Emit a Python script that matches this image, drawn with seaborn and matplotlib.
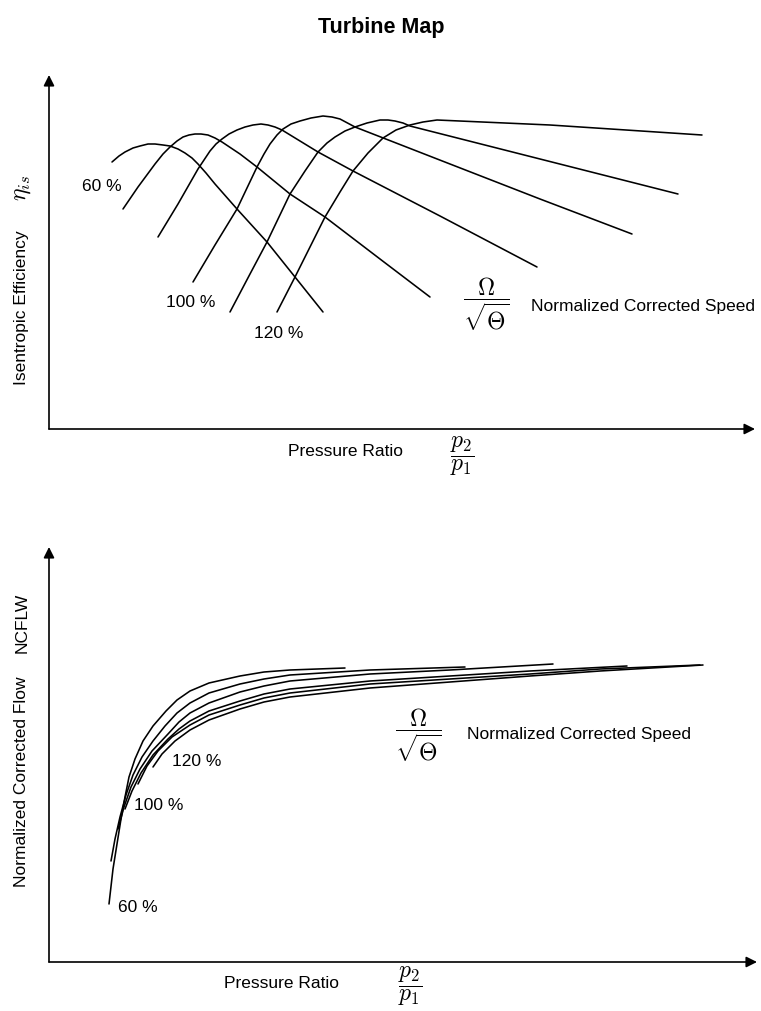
import numpy as np
import pandas as pd
import matplotlib
matplotlib.use("Agg")
import matplotlib.pyplot as plt
import seaborn as sns

# ---- data (arbitrary map units) ----
# top map: isentropic efficiency vs pressure ratio, six speed lines
eff_speed_1_x = [63, 70, 76, 84, 91, 99, 106, 114, 121, 129, 136, 143, 149, 157, 166, 188, 218, 246, 274]
eff_speed_1_y = [267, 273, 277, 281, 283, 285, 285, 284, 283, 280, 276, 271, 265, 256, 245, 220, 187, 152, 117]
eff_speed_2_x = [74, 89, 106, 114, 121, 128, 134, 140, 146, 152, 159, 166, 173, 191, 208, 241, 276, 331, 381]
eff_speed_2_y = [220, 242, 265, 275, 282, 288, 292, 294, 295, 295, 294, 291, 287, 275, 262, 235, 212, 170, 132]
eff_speed_3_x = [109, 129, 149, 161, 167, 173, 180, 188, 196, 204, 212, 219, 226, 233, 251, 269, 304, 391, 488]
eff_speed_3_y = [192, 225, 260, 278, 285, 290, 295, 299, 302, 304, 305, 304, 302, 299, 288, 277, 258, 213, 162]
eff_speed_4_x = [144, 166, 188, 208, 215, 221, 228, 234, 242, 251, 262, 274, 283, 291, 306, 401, 491, 583]
eff_speed_4_y = [147, 184, 220, 262, 275, 285, 294, 300, 305, 308, 311, 313, 312, 310, 302, 265, 230, 195]
eff_speed_5_x = [181, 201, 218, 241, 256, 269, 278, 286, 296, 306, 318, 331, 339, 346, 354, 361, 491, 629]
eff_speed_5_y = [117, 155, 187, 235, 258, 277, 286, 292, 298, 302, 306, 309, 309, 308, 306, 303, 270, 235]
eff_speed_6_x = [228, 246, 261, 276, 291, 304, 319, 334, 347, 361, 374, 388, 501, 653]
eff_speed_6_y = [117, 152, 182, 212, 237, 258, 276, 291, 299, 304, 307, 309, 304, 294]

# bottom map: normalized corrected flow vs pressure ratio, six speed lines
flow_speed_1_x = [60, 64, 68, 72, 76, 80, 86, 94, 104, 117, 128, 141, 160, 191, 215, 241, 296]
flow_speed_1_y = [58, 93, 118, 143, 165, 185, 203, 221, 236, 251, 262, 271, 279, 286, 290, 292, 294]
flow_speed_2_x = [62, 66, 71, 77, 84, 93, 104, 116, 128, 141, 160, 191, 215, 241, 321, 416]
flow_speed_2_y = [101, 123, 145, 167, 187, 205, 221, 236, 249, 259, 269, 278, 283, 287, 292, 295]
flow_speed_3_x = [69, 75, 82, 91, 103, 119, 130, 141, 160, 191, 215, 241, 321, 401, 504]
flow_speed_3_y = [133, 155, 175, 193, 211, 228, 240, 249, 259, 270, 276, 281, 288, 292, 298]
flow_speed_4_x = [76, 83, 92, 104, 119, 130, 141, 160, 191, 215, 241, 321, 401, 481, 578]
flow_speed_4_y = [153, 171, 189, 207, 223, 233, 241, 251, 261, 268, 273, 281, 286, 291, 296]
flow_speed_5_x = [89, 98, 109, 123, 141, 160, 191, 215, 241, 321, 401, 481, 551, 651]
flow_speed_5_y = [178, 196, 211, 225, 237, 247, 257, 264, 269, 278, 283, 288, 293, 297]
flow_speed_6_x = [104, 113, 126, 141, 160, 191, 215, 241, 321, 401, 481, 551, 654]
flow_speed_6_y = [195, 208, 221, 232, 242, 253, 260, 265, 274, 280, 286, 291, 297]

speed_labels = ["60 %", "100 %", "120 %"]


def to_frame(xs, ys):
    rows = []
    for i, (x, y) in enumerate(zip(xs, ys)):
        rows.append(pd.DataFrame({"pr": x, "val": y, "speed": i}))
    return pd.concat(rows, ignore_index=True)


eff_df = to_frame(
    [eff_speed_1_x, eff_speed_2_x, eff_speed_3_x, eff_speed_4_x, eff_speed_5_x, eff_speed_6_x],
    [eff_speed_1_y, eff_speed_2_y, eff_speed_3_y, eff_speed_4_y, eff_speed_5_y, eff_speed_6_y],
)
flow_df = to_frame(
    [flow_speed_1_x, flow_speed_2_x, flow_speed_3_x, flow_speed_4_x, flow_speed_5_x, flow_speed_6_x],
    [flow_speed_1_y, flow_speed_2_y, flow_speed_3_y, flow_speed_4_y, flow_speed_5_y, flow_speed_6_y],
)

sns.set_theme(style="white")
plt.rcParams["font.family"] = ["Liberation Sans", "DejaVu Sans"]
plt.rcParams["mathtext.fontset"] = "cm"
plt.rcParams["text.color"] = "black"

W, H = 761, 1012
fig = plt.figure(figsize=(W / 100, H / 100), dpi=100)


def fpos(x, y):
    return x / W, 1 - y / H


def add_axes(x0, y0, x1, y1):
    # pixel box -> axes with arrows instead of spines
    ax = fig.add_axes([x0 / W, 1 - y0 / H, (x1 - x0) / W, (y0 - y1) / H])
    ax.set_xlim(0, x1 - x0)
    ax.set_ylim(0, y0 - y1)
    for s in ax.spines.values():
        s.set_visible(False)
    ax.set_xticks([])
    ax.set_yticks([])
    ax.patch.set_alpha(0)
    arrow = dict(arrowstyle="-|>", color="black", lw=1.2, mutation_scale=16,
                 shrinkA=0, shrinkB=0)
    ax.annotate("", xy=(1, 0), xytext=(0, 0), xycoords="axes fraction", arrowprops=arrow)
    ax.annotate("", xy=(0, 1), xytext=(0, 0), xycoords="axes fraction", arrowprops=arrow)
    return ax


# ---- top: efficiency map ----
ax1 = add_axes(49, 430, 755, 76)
sns.lineplot(data=eff_df, x="pr", y="val", units="speed", estimator=None, sort=False,
             color="black", lw=1.15, ax=ax1, legend=False)
ax1.set_xlabel("")
ax1.set_ylabel("")

# ---- bottom: flow map ----
ax2 = add_axes(49, 963, 757, 548)
sns.lineplot(data=flow_df, x="pr", y="val", units="speed", estimator=None, sort=False,
             color="black", lw=1.15, ax=ax2, legend=False)
ax2.set_xlabel("")
ax2.set_ylabel("")

fs = 12.5
mfs = 17
frac_speed = r"$\dfrac{\Omega}{\sqrt{\Theta}}$"
frac_pr = r"$\dfrac{p_2}{p_1}$"

fig.text(*fpos(381, 27), "Turbine Map", ha="center", va="center", fontsize=15.5, fontweight="bold")

# top annotations
fig.text(*fpos(82, 187), speed_labels[0], ha="left", va="center", fontsize=fs)
fig.text(*fpos(166, 303), speed_labels[1], ha="left", va="center", fontsize=fs)
fig.text(*fpos(254, 333), speed_labels[2], ha="left", va="center", fontsize=fs)
fig.text(*fpos(486, 304), frac_speed, ha="center", va="center", fontsize=mfs)
fig.text(*fpos(531, 306), "Normalized Corrected Speed", ha="left", va="center", fontsize=fs)
fig.text(*fpos(22, 308), "Isentropic Efficiency", ha="center", va="center", fontsize=fs, rotation=90)
fig.text(*fpos(22, 188), r"$\eta_{is}$", ha="center", va="center", fontsize=mfs, rotation=90)
fig.text(*fpos(345, 452), "Pressure Ratio", ha="center", va="center", fontsize=fs)
fig.text(*fpos(462, 456), frac_pr, ha="center", va="center", fontsize=mfs)

# bottom annotations
fig.text(*fpos(118, 908), speed_labels[0], ha="left", va="center", fontsize=fs)
fig.text(*fpos(134, 806), speed_labels[1], ha="left", va="center", fontsize=fs)
fig.text(*fpos(172, 762), speed_labels[2], ha="left", va="center", fontsize=fs)
fig.text(*fpos(418, 735), frac_speed, ha="center", va="center", fontsize=mfs)
fig.text(*fpos(467, 735), "Normalized Corrected Speed", ha="left", va="center", fontsize=fs)
fig.text(*fpos(22, 782), "Normalized Corrected Flow", ha="center", va="center", fontsize=fs, rotation=90)
fig.text(*fpos(22, 623), "NCFLW", ha="center", va="center", fontsize=fs, rotation=90)
fig.text(*fpos(282, 983), "Pressure Ratio", ha="center", va="center", fontsize=fs)
fig.text(*fpos(410, 986), frac_pr, ha="center", va="center", fontsize=mfs)

fig.savefig("out.png", dpi=100, facecolor="white")
